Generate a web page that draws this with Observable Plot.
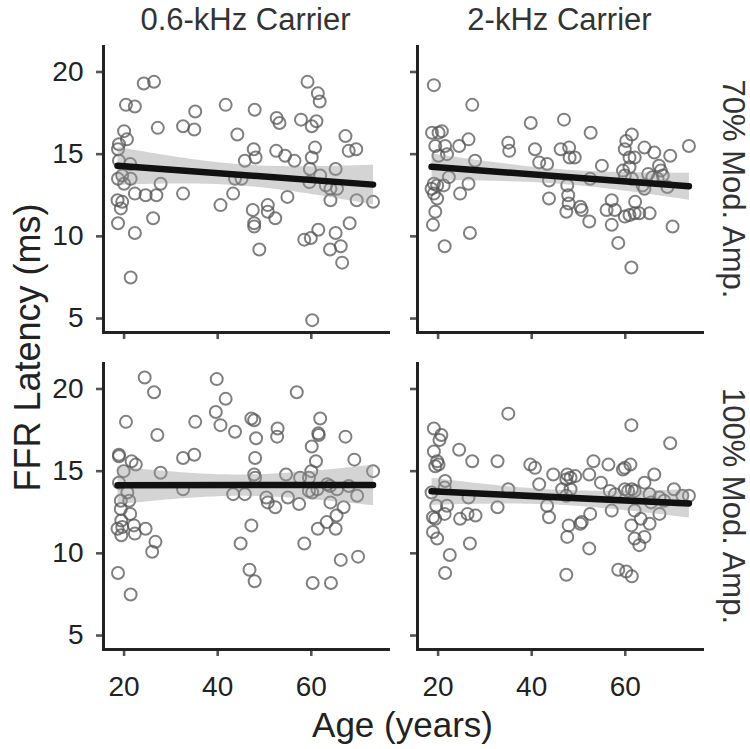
<!DOCTYPE html>
<html><head><meta charset="utf-8">
<script src="https://cdn.jsdelivr.net/npm/d3@7"></script>
<script src="https://cdn.jsdelivr.net/npm/@observablehq/plot@0.6"></script>
<style>body{margin:0;background:#fff} svg{display:block}</style>
</head><body><div id="chart"></div>
<script>
const carriers = ["0.6-kHz Carrier", "2-kHz Carrier"];
const modulations = ["70% Mod. Amp.", "100% Mod. Amp."];
const xTicks = [20, 40, 60];
const yTicks = [5, 10, 15, 20];
const xTitle = "Age (years)";
const yTitle = "FFR Latency (ms)";

// 0.6-kHz carrier, 70% modulation
const age_06_70 = [24.2,26.4,20.4,22.3,27.2,35.2,32.6,35.0,41.7,44.2,20.0,20.6,18.9,18.7,18.9,21.3,18.7,19.6,21.4,20.0,27.8,22.3,24.6,26.9,32.6,18.6,19.6,19.3,18.7,26.2,22.3,21.4,40.6,43.3,45.8,43.7,45.1,47.7,47.9,48.1,59.2,61.4,61.8,52.6,53.2,57.8,61.1,60.1,67.3,68.0,69.6,52.5,54.4,56.4,60.8,60.1,59.7,65.2,61.9,59.6,63.1,64.1,65.5,64.1,54.9,47.5,50.7,50.7,52.3,47.8,47.8,48.9,69.7,73.2,68.2,58.5,59.9,61.5,65.2,66.3,64.0,66.6,60.2];
const lat_06_70 = [19.3,19.4,18.0,17.9,16.6,17.6,16.7,16.5,18.0,16.2,16.4,15.9,15.6,15.3,14.6,14.4,13.5,13.7,13.5,13.2,13.2,12.6,12.5,12.5,12.6,12.2,12.1,11.7,10.8,11.1,10.2,7.5,11.9,12.6,14.6,13.5,13.5,15.3,17.7,14.8,19.4,18.7,18.2,17.2,16.9,17.1,17.0,16.7,16.1,15.2,15.3,15.2,14.9,14.6,15.4,14.8,14.1,14.1,13.7,13.3,13.1,12.9,12.9,12.2,12.4,11.6,11.9,11.5,11.1,10.8,10.6,9.2,12.2,12.1,10.8,9.8,9.9,10.4,10.2,9.4,9.2,8.4,4.9];

// 2-kHz carrier, 70% modulation
const age_2_70 = [19.1,27.3,18.7,20.1,20.8,19.4,21.5,24.5,26.5,20.1,21.9,27.9,22.3,19.1,19.8,21.2,18.6,26.5,24.7,19.8,19.1,19.4,18.9,26.8,21.4,35.0,35.2,39.8,40.7,41.6,43.3,43.7,43.7,46.9,52.6,46.2,48.0,48.1,49.2,47.6,47.8,47.9,47.4,50.4,50.7,52.3,55.0,52.5,57.1,56.0,57.8,57.1,58.5,61.3,59.9,61.4,60.2,60.9,62.0,59.5,60.9,61.4,59.9,64.1,66.2,67.2,67.6,69.6,64.9,65.8,63.7,64.1,66.9,68.0,69.0,62.1,59.9,60.9,62.0,63.0,65.2,70.1,73.6];
const lat_2_70 = [19.2,18.0,16.3,16.3,16.4,15.5,15.5,15.5,15.9,14.9,15.0,14.6,13.6,13.2,13.1,13.1,12.9,13.2,12.6,12.3,12.6,11.5,10.7,10.2,9.4,15.7,15.2,16.9,15.3,14.5,14.4,13.4,12.3,17.1,16.3,15.3,15.4,14.8,14.8,13.1,12.5,12.0,11.5,11.8,11.6,10.9,14.3,13.5,12.2,11.6,11.6,10.7,9.6,8.1,15.3,16.2,15.8,14.8,14.8,14.0,14.2,13.5,13.7,15.4,15.1,14.3,14.0,14.9,13.8,13.6,13.1,12.9,13.5,13.7,13.0,12.1,11.2,11.3,11.4,11.4,11.4,10.6,15.5];

// 0.6-kHz carrier, 100% modulation
const age_06_100 = [24.4,26.4,20.4,27.1,35.2,39.8,41.7,39.6,40.6,43.7,47.2,47.8,18.9,18.9,21.6,22.5,19.9,18.9,27.8,32.6,35.0,32.6,20.7,21.1,19.3,19.3,21.3,19.4,18.6,19.6,19.4,22.1,22.3,24.6,26.7,26.0,18.7,21.4,43.3,45.8,44.9,47.2,46.8,47.9,48.2,48.0,47.8,48.0,56.9,52.8,52.7,61.9,61.5,61.6,67.3,60.1,61.0,69.2,54.6,57.6,59.5,60.0,73.2,50.4,50.7,52.3,55.0,57.4,59.5,60.2,61.3,63.4,64.0,65.5,68.0,69.8,64.1,66.9,65.4,63.3,61.4,65.2,58.5,66.3,70.0,60.3,64.2];
const lat_06_100 = [20.7,19.8,18.0,17.2,18.0,20.6,19.4,18.6,17.8,17.4,18.2,18.1,16.0,15.9,15.6,15.4,15.0,14.3,14.9,15.8,16.0,13.9,13.7,13.2,13.2,12.7,12.4,12.0,11.5,11.6,11.1,11.7,11.2,11.5,10.7,10.1,8.8,7.5,13.6,13.6,10.6,11.7,9.0,8.3,17.0,15.8,14.8,14.6,19.8,17.6,17.1,18.2,17.3,17.2,17.1,16.5,15.6,15.7,14.8,14.6,14.6,15.0,15.0,13.4,13.1,12.8,13.4,13.0,13.8,13.7,13.9,14.2,14.1,13.9,14.1,13.5,13.1,12.8,12.3,11.9,11.5,11.5,10.6,9.6,9.8,8.2,8.2];

// 2-kHz carrier, 100% modulation
const age_2_100 = [35.0,19.1,20.7,20.3,19.1,19.8,19.4,20.1,24.5,27.3,32.7,21.5,18.6,21.4,26.5,19.6,21.9,21.4,18.9,19.4,18.9,19.8,24.7,26.3,28.0,26.8,22.5,21.5,32.7,35.0,39.7,40.7,41.6,43.3,43.7,44.6,61.3,69.6,53.2,56.4,59.9,61.1,59.5,47.6,48.3,49.3,47.4,52.3,54.8,64.1,66.2,46.5,48.3,47.4,56.7,57.8,59.9,60.6,61.4,62.0,65.2,65.5,67.3,68.3,70.4,72.2,73.6,67.3,57.1,52.5,62.0,63.3,65.2,61.3,64.1,62.0,63.0,50.4,50.7,47.9,47.6,52.3,47.4,58.5,60.2,61.4];
const lat_2_100 = [18.5,17.6,17.2,16.9,16.2,15.6,15.3,15.4,16.3,15.6,15.6,14.4,13.7,14.0,13.4,12.9,12.9,12.4,12.2,12.1,11.3,10.9,12.1,12.4,12.3,10.6,9.9,8.8,12.8,13.9,15.4,15.2,14.2,12.9,12.2,14.8,17.8,16.7,15.6,15.4,15.2,15.4,15.1,14.8,14.6,14.7,14.5,14.8,14.3,14.3,14.8,13.9,13.9,13.5,13.8,13.6,13.9,13.8,13.9,13.8,13.6,13.1,13.4,13.2,13.9,13.5,13.5,12.4,12.6,12.4,12.6,12.1,11.8,11.7,11.0,10.9,10.5,11.8,11.9,11.7,11.0,10.3,8.7,9.0,8.9,8.6];

const panels = [
  {carrier: carriers[0], mod: modulations[0], age: age_06_70, lat: lat_06_70},
  {carrier: carriers[1], mod: modulations[0], age: age_2_70, lat: lat_2_70},
  {carrier: carriers[0], mod: modulations[1], age: age_06_100, lat: lat_06_100},
  {carrier: carriers[1], mod: modulations[1], age: age_2_100, lat: lat_2_100}
];
const data = panels.flatMap(p => p.age.map((a, i) => ({carrier: p.carrier, mod: p.mod, age: a, latency: p.lat[i]})));

const font = "'Liberation Sans', Arial, Helvetica, sans-serif";
const chart = Plot.plot({
  width: 750, height: 749,
  marginLeft: 102, marginRight: 47, marginTop: 46, marginBottom: 99,
  style: {fontFamily: font, background: "#fff", color: "#222", overflow: "visible"},
  x: {domain: [15.6, 76.5]},
  y: {domain: [4.15, 21.55]},
  fx: {domain: carriers, paddingInner: 0.092, paddingOuter: 0, axis: null},
  fy: {domain: modulations, paddingInner: 0.097, paddingOuter: 0, axis: null},
  marks: [
    Plot.axisX({ticks: xTicks, tickSize: 7, tickFormat: () => "", facetAnchor: null, stroke: "#555", strokeWidth: 2.6, label: null}),
    Plot.axisX({ticks: xTicks, tickSize: 0, tickPadding: 27, fontSize: 28, fill: "#222", label: null}),
    Plot.axisY({ticks: yTicks, tickSize: 7, tickFormat: () => "", facetAnchor: null, stroke: "#555", strokeWidth: 2.6, label: null}),
    Plot.axisY({ticks: yTicks, tickSize: 0, tickPadding: 20, fontSize: 28, fill: "#222", label: null}),
    Plot.dot(data, {x: "age", y: "latency", fx: "carrier", fy: "mod", r: 6, stroke: "#555", strokeOpacity: 0.75, strokeWidth: 2}),
    Plot.linearRegressionY(data, {x: "age", y: "latency", fx: "carrier", fy: "mod", stroke: "#111", strokeWidth: 6.5, fill: "#999", fillOpacity: 0.42}),
    Plot.frame({anchor: "left", stroke: "#222", strokeWidth: 3}),
    Plot.frame({anchor: "bottom", stroke: "#222", strokeWidth: 3})
  ]
});
document.getElementById("chart").appendChild(chart);

const svg = d3.select(chart);
const fxS = chart.scale("fx"), fyS = chart.scale("fy");
carriers.forEach(c => {
  svg.append("text").attr("x", fxS.apply(c) + fxS.bandwidth / 2).attr("y", 30)
    .attr("text-anchor", "middle").attr("font-size", 31).attr("fill", "#333")
    .attr("font-family", font).text(c);
});
modulations.forEach(m => {
  const cy = fyS.apply(m) + fyS.bandwidth / 2;
  svg.append("text").attr("transform", `translate(723,${cy}) rotate(90)`)
    .attr("text-anchor", "middle").attr("font-size", 31).attr("fill", "#333")
    .attr("font-family", font).text(m);
});
const x0 = fxS.apply(carriers[0]), x1 = fxS.apply(carriers[1]) + fxS.bandwidth;
svg.append("text").attr("x", (x0 + x1) / 2).attr("y", 737).attr("text-anchor", "middle")
  .attr("font-size", 35).attr("fill", "#222").attr("font-family", font).text(xTitle);
const y0 = fyS.apply(modulations[0]), y1 = fyS.apply(modulations[1]) + fyS.bandwidth;
svg.append("text").attr("transform", `translate(40,${(y0 + y1) / 2}) rotate(-90)`).attr("text-anchor", "middle")
  .attr("font-size", 36).attr("fill", "#222").attr("font-family", font).text(yTitle);
</script>
</body></html>
